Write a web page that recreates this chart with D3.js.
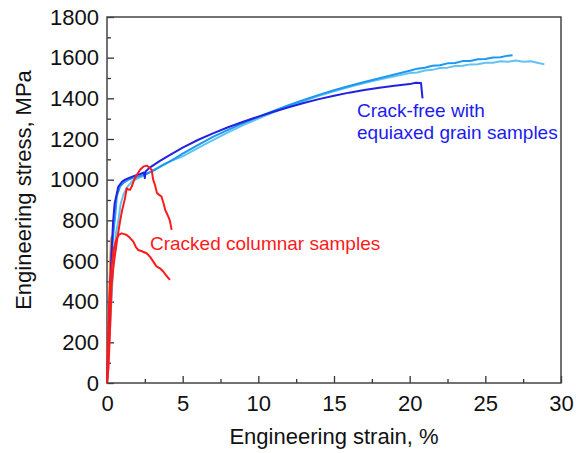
<!DOCTYPE html>
<html>
<head>
  <script src="https://cdn.jsdelivr.net/npm/d3@7"></script>
  <style>
    body { margin: 0; background: white; }
    svg { font-family: "Liberation Sans", Arial, sans-serif; }
  </style>
</head>
<body>
  <script>
    // strain (%), stress (MPa)
    const orangeCurve = [[0,0],[0.05,150],[0.1,300],[0.15,450],[0.2,580],[0.25,690],[0.3,718],[0.35,722]]

    const darkBlueCurve = [[0,0],[0.1,230],[0.2,450],[0.3,640],[0.4,790],[0.5,880],[0.75,966],[1.0,990],[1.2,1000],
      [1.5,1010],[1.85,1020],[2.2,1028],[2.45,1035],[2.5,1008],[2.55,1040],[2.8,1058],[3.0,1068],[3.5,1092],[4,1115],
      [5,1158],[6,1195],[7,1228],[8,1258],[9,1285],[10,1310],[11,1334],[12,1356],[13,1377],[14,1396],[15,1413],
      [16,1428],[17,1441],[18,1452],[19,1462],[20,1470],[20.4,1477],[20.75,1475],[20.85,1400]]

    const midBlueCurve = [[0,0],[0.1,200],[0.2,420],[0.3,620],[0.45,760],[0.55,830],[0.65,920],[0.86,966],[1.1,985],
      [1.4,999],[1.8,1010],[2.3,1020],[2.8,1035],[3.2,1050],[3.8,1075],[4.5,1105],[5,1128],[6,1170],[7,1210],[8,1245],
      [9,1278],[10,1308],[11,1338],[12,1366],[13,1392],[14,1417],[15,1440],[16,1461],[17,1480],[18,1499],[19,1517],
      [20,1536],[20.5,1546],[21,1550],[21.5,1560],[22,1563],[22.5,1572],[23,1574],[23.5,1583],[24,1584],[24.5,1592],
      [25,1593],[25.5,1601],[26,1602],[26.5,1610],[26.8,1612]]

    const lightBlueCurve = [[0,0],[0.15,200],[0.3,420],[0.45,620],[0.6,740],[0.75,800],[0.9,880],[1.08,925],[1.3,960],
      [1.63,990],[2.0,1005],[2.5,1023],[3.0,1045],[3.8,1078],[4.5,1100],[5,1115],[6,1155],[7,1195],[8,1233],[9,1268],
      [10,1300],[11,1331],[12,1359],[13,1387],[14,1412],[15,1435],[16,1456],[17,1475],[18,1492],[19,1508],[20,1524],
      [20.5,1527],[21,1537],[21.5,1540],[22,1549],[22.5,1551],[23,1559],[23.5,1560],[24,1567],[24.5,1568],[25,1575],
      [25.5,1575],[26,1582],[26.5,1580],[27,1586],[27.5,1580],[28,1582],[28.5,1574],[28.9,1568]]

    const redCurve1 = [[0,0],[0.1,80],[0.2,260],[0.31,482],[0.42,570],[0.53,630],[0.7,720],[0.86,794],[1.0,850],
      [1.19,908],[1.3,958],[1.4,952],[1.52,950],[1.63,966],[1.8,1000],[1.96,1023],[2.2,1050],[2.4,1064],[2.62,1069],
      [2.8,1060],[2.95,1048],[3.05,1000],[3.17,974],[3.3,935],[3.45,925],[3.6,917],[3.75,880],[3.85,850],[3.95,835],
      [4.05,818],[4.15,800],[4.27,753]]

    const redCurve2 = [[0,0],[0.05,150],[0.1,300],[0.2,480],[0.31,580],[0.45,660],[0.64,712],[0.8,730],[0.97,736],
      [1.15,732],[1.3,728],[1.5,715],[1.74,695],[1.9,670],[2.07,654],[2.3,648],[2.62,638],[2.85,620],[3.06,597],
      [3.25,575],[3.5,564],[3.7,550],[3.9,530],[4.16,507]]

    const xTicks = [0, 5, 10, 15, 20, 25, 30]
    const xMinor = [2.5, 7.5, 12.5, 17.5, 22.5, 27.5]
    const yTicks = [0, 200, 400, 600, 800, 1000, 1200, 1400, 1600, 1800]
    const yMinor = [100, 300, 500, 700, 900, 1100, 1300, 1500, 1700]

    const W = 576, H = 453
    const plotL = 107, plotT = 17, plotR = 561, plotB = 383

    const svg = d3.select('body').append('svg')
      .attr('width', W)
      .attr('height', H)

    const x = d3.scaleLinear().domain([0, 30]).range([plotL, plotR])
    const y = d3.scaleLinear().domain([0, 1800]).range([plotB, plotT])

    const line = d3.line().x(d => x(d[0])).y(d => y(d[1]))

    function drawCurve(data, color) {
      svg.append('path')
        .attr('d', line(data))
        .attr('fill', 'none')
        .attr('stroke', color)
        .attr('stroke-width', 2)
        .attr('stroke-linejoin', 'round')
    }

    // axes with inward ticks
    const xAxis = svg.append('g').attr('transform', `translate(0,${plotB})`)
      .call(d3.axisBottom(x).tickValues(xTicks).tickFormat(d3.format('d'))
        .tickSizeInner(-7).tickSizeOuter(0).tickPadding(12))
    svg.append('g').attr('transform', `translate(0,${plotB})`)
      .call(d3.axisBottom(x).tickValues(xMinor).tickSizeInner(-4).tickSizeOuter(0).tickFormat(''))
    const yAxis = svg.append('g').attr('transform', `translate(${plotL},0)`)
      .call(d3.axisLeft(y).tickValues(yTicks).tickFormat(d3.format('d'))
        .tickSizeInner(-7).tickSizeOuter(0).tickPadding(8))
    svg.append('g').attr('transform', `translate(${plotL},0)`)
      .call(d3.axisLeft(y).tickValues(yMinor).tickSizeInner(-4).tickSizeOuter(0).tickFormat(''))

    svg.selectAll('.domain').remove()
    svg.selectAll('.tick line').attr('stroke', '#333').attr('stroke-width', 1.3)
    svg.selectAll('.tick text')
      .attr('font-size', 22)
      .attr('font-family', '"Liberation Sans", Arial, sans-serif')
      .attr('fill', '#111')
    xAxis.selectAll('.tick text').attr('dy', '0.71em')

    // frame
    svg.append('rect')
      .attr('x', plotL).attr('y', plotT)
      .attr('width', plotR - plotL).attr('height', plotB - plotT)
      .attr('fill', 'none')
      .attr('stroke', '#444')
      .attr('stroke-width', 1.5)

    drawCurve(orangeCurve, '#f08a30')
    drawCurve(lightBlueCurve, '#62c2f4')
    drawCurve(midBlueCurve, '#1a98f2')
    drawCurve(darkBlueCurve, '#2222e0')
    drawCurve(redCurve2, '#ff1a1a')
    drawCurve(redCurve1, '#ff1a1a')

    // annotations
    svg.append('text')
      .attr('x', 357).attr('y', 117)
      .attr('font-size', 19).attr('fill', '#1c1cf0')
      .text('Crack-free with')
    svg.append('text')
      .attr('x', 357).attr('y', 139)
      .attr('font-size', 19).attr('fill', '#1c1cf0')
      .text('equiaxed grain samples')
    svg.append('text')
      .attr('x', 150).attr('y', 250)
      .attr('font-size', 19).attr('fill', '#ff1a1a')
      .text('Cracked columnar samples')

    // axis titles
    svg.append('text')
      .attr('x', (plotL + plotR) / 2).attr('y', 444)
      .attr('text-anchor', 'middle')
      .attr('font-size', 22).attr('fill', '#111')
      .text('Engineering strain, %')
    svg.append('text')
      .attr('transform', `translate(31,190) rotate(-90)`)
      .attr('text-anchor', 'middle')
      .attr('font-size', 22).attr('fill', '#111')
      .text('Engineering stress, MPa')
  </script>
</body>
</html>
